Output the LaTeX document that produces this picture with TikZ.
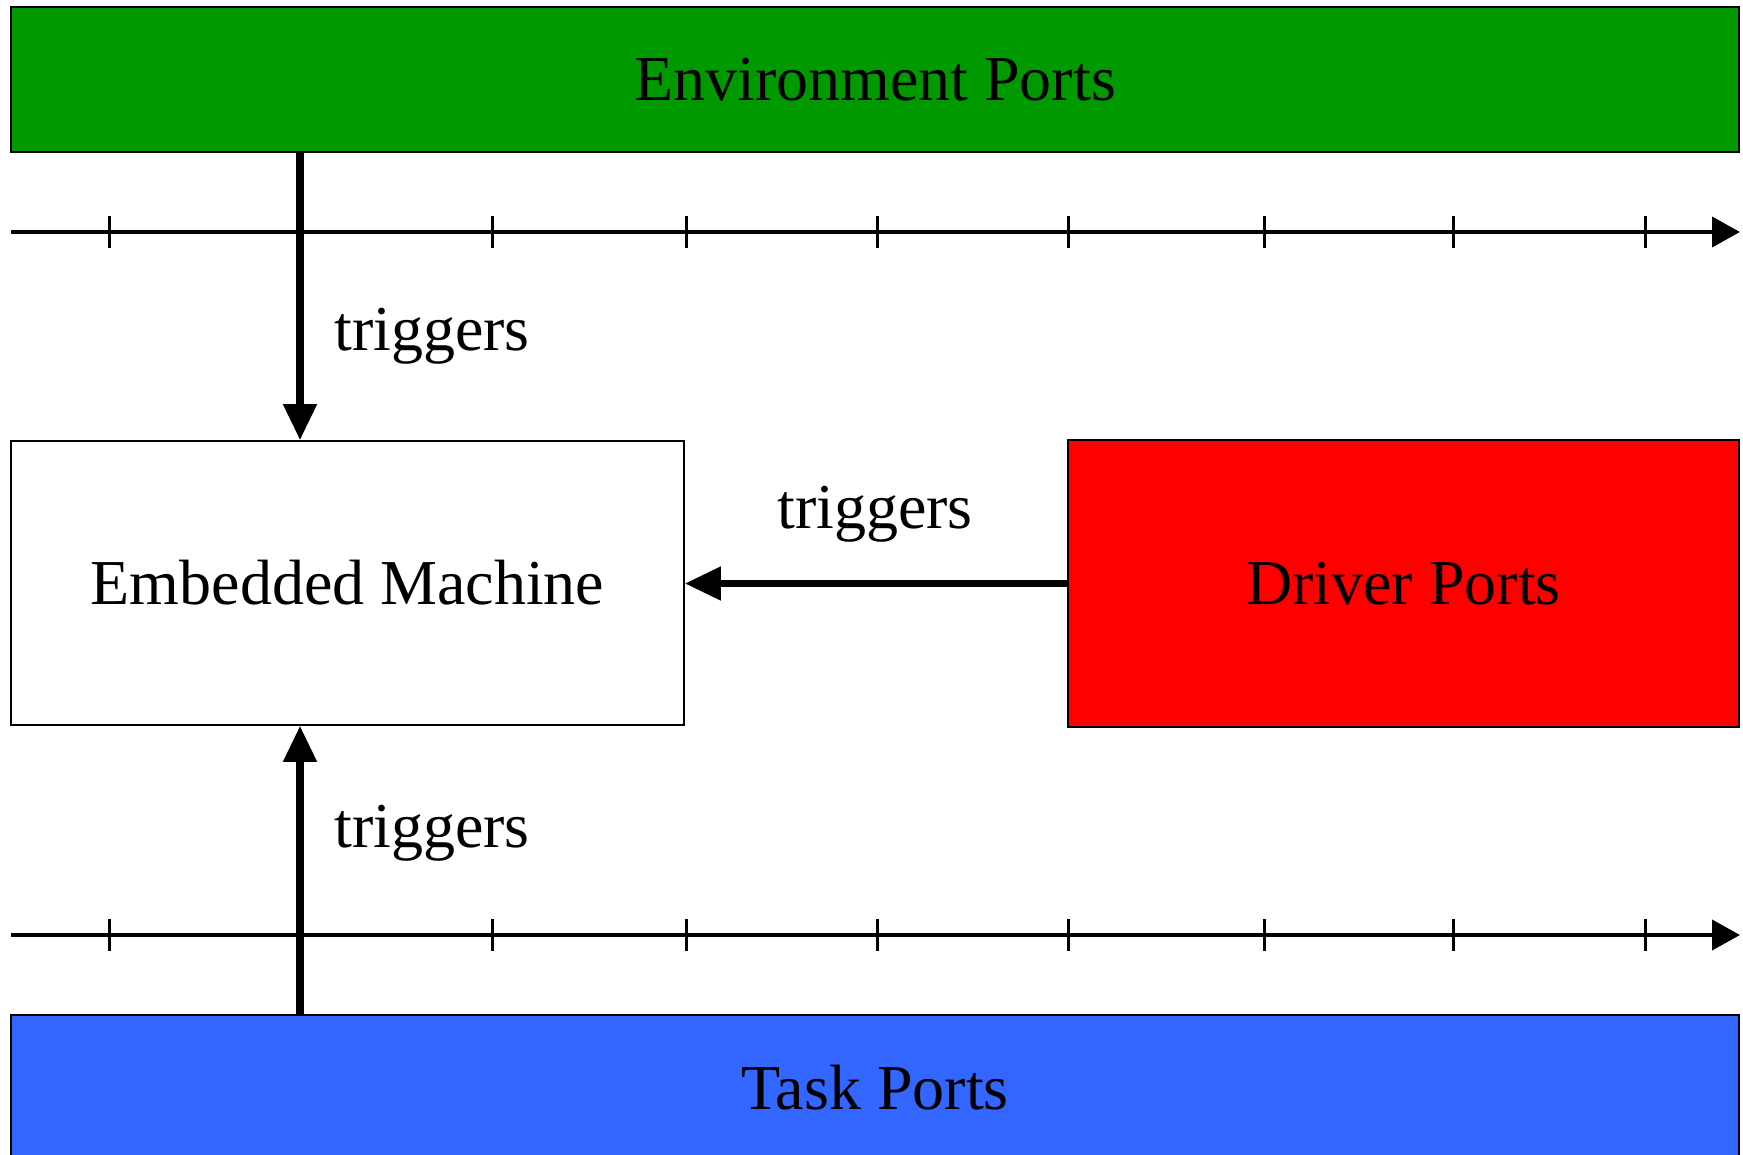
\documentclass[tikz,border=0pt]{standalone}
\usepackage{fontspec}
\setmainfont{Liberation Serif}
\usetikzlibrary{arrows.meta}
\definecolor{envgreen}{RGB}{0,153,0}
\definecolor{drvred}{RGB}{255,0,0}
\definecolor{taskblue}{RGB}{51,102,255}
\begin{document}
\begin{tikzpicture}[x=1pt,y=-1pt,
  every node/.style={font=\fontsize{64}{76}\selectfont},
  portbox/.style={draw=black, line width=1.5pt, rectangle, inner sep=0pt},
  axisline/.style={line width=4pt, -{Triangle[length=28pt,width=30pt]}},
  tickmark/.style={line width=3pt},
  trig/.style={line width=7.5pt, -{Triangle[length=36pt,width=32pt]}},
  lbl/.style={anchor=base, inner sep=0pt}]
  \useasboundingbox (0,0) rectangle (1743,1155);
  \fill[white] (0,0) rectangle (1743,1155);

  % port boxes and the machine
  \node[portbox, fill=envgreen, minimum width=1728pt, minimum height=145pt]
    (env) at (875,79.5) {Environment Ports};
  \node[portbox, fill=white, minimum width=673pt, minimum height=284pt]
    (em) at (347.5,583) {Embedded Machine};
  \node[portbox, fill=drvred, minimum width=671pt, minimum height=287pt]
    (drv) at (1403.5,583.5) {Driver Ports};
  \node[portbox, fill=taskblue, minimum width=1728pt, minimum height=145pt]
    (task) at (875,1087.5) {Task Ports};

  % time axes with ticks
  \coordinate (topL) at (11,232);  \coordinate (topR) at (1740,232);
  \coordinate (botL) at (11,935);  \coordinate (botR) at (1740,935);
  \draw[axisline] (topL) -- (topR);
  \draw[axisline] (botL) -- (botR);
  \foreach \x in {109,492,686,877,1068,1264,1453,1645} {
    \draw[tickmark] (\x,216) -- (\x,248);
    \draw[tickmark] (\x,919) -- (\x,951);
  }

  % trigger connections into the machine
  \coordinate (tx) at (300,0);
  \draw[trig] (env.south -| tx) -- (em.north -| tx);
  \draw[trig] (task.north -| tx) -- (em.south -| tx);
  \draw[trig] (drv.west) -- (em.east |- drv.west);

  \node[lbl] (t1) at (432,351) {triggers};
  \node[lbl] (t2) at (875,528) {triggers};
  \node[lbl] (t3) at (432,847) {triggers};
\end{tikzpicture}
\end{document}
